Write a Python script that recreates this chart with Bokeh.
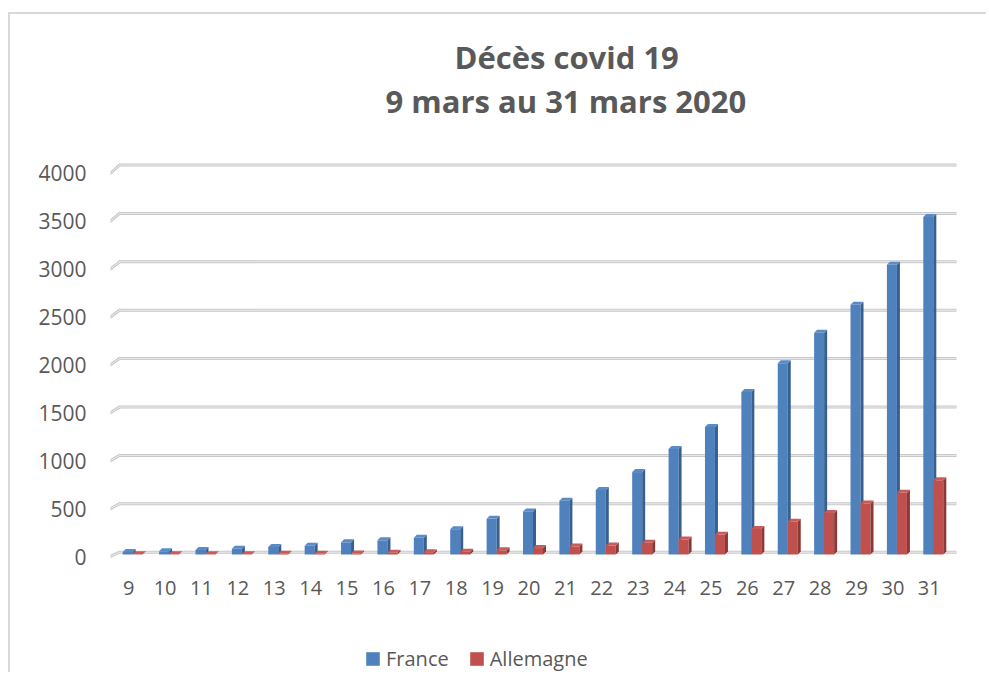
from bokeh.plotting import figure
from bokeh.models import (Range1d, LinearAxis, FixedTicker, Title, Legend,
                          LegendItem, ColumnDataSource)
from bokeh.transform import dodge
from bokeh.embed import file_html
from bokeh.resources import INLINE

# ---------------- data ----------------
days = ["9", "10", "11", "12", "13", "14", "15", "16", "17", "18", "19", "20",
        "21", "22", "23", "24", "25", "26", "27", "28", "29", "30", "31"]
france = [25, 33, 48, 61, 79, 91, 127, 148, 175, 264, 372, 450,
          562, 674, 860, 1100, 1331, 1696, 1995, 2314, 2606, 3024, 3523]
allemagne = [2, 2, 3, 3, 7, 9, 11, 17, 24, 28, 44, 67,
             84, 94, 123, 157, 206, 267, 342, 433, 533, 645, 775]
y_ticks = [0, 500, 1000, 1500, 2000, 2500, 3000, 3500, 4000]
series_names = ["France", "Allemagne"]
title_1 = "Décès covid 19"
title_2 = "9 mars au 31 mars 2020"

# ---------------- layout constants (page pixels) ----------------
W, H = 978, 660
OX, OY = 10, 14                     # canvas origin on the page
FRAME_L, FRAME_R, FRAME_T, FRAME_B = 110, 956, 121, 674
BACK_Y0, BACK_YMAX = 551.7, 164.5   # back wall gridlines (0 and 4000)
FRONT_Y0, FRONT_YMAX = 556.0, 172.7 # front (label) positions
BAR_Y0 = 554.0
FRONT_R = 947.0
DEPTH_X = 9.0
XLAB_CY = 588.0
LEG_LEFT = 364
LEG_BOTTOM = 672.0
TXT = "#595959"
FONT = "Open Sans"

n = len(days)
vmax = y_ticks[-1]
cat_w = (FRONT_R - FRAME_L) / n
k_back = (BACK_Y0 - BACK_YMAX) / vmax
k_front = (FRONT_Y0 - FRONT_YMAX) / vmax

x_start = -0.5
x_end = x_start + (FRAME_R - FRAME_L) / cat_w


def rng(y0, k):
    return Range1d(-(FRAME_B - y0) / k, (y0 - FRAME_T) / k)


p = figure(width=W, height=H, output_backend="svg", toolbar_location=None,
           title=title_1, x_range=Range1d(x_start, x_end),
           y_range=rng(BACK_Y0, k_back), y_axis_location=None,
           min_border_left=FRAME_L - OX, min_border_right=OX + W - FRAME_R,
           min_border_top=FRAME_T - OY, min_border_bottom=OY + H - FRAME_B)
p.extra_y_ranges = {"lab": rng(FRONT_Y0, k_front), "bar": rng(BAR_Y0, k_front)}
p.styles = {"border-left": "2px solid #d9d9d9", "border-top": "2px solid #d9d9d9",
            "margin-top": "12px", "margin-left": "8px"}
p.outline_line_color = None
p.grid.visible = False
p.background_fill_color = "white"
p.border_fill_color = "white"

# titles (second line is the one nearest the plot)
p.title.align = "left"
p.title.offset = 344
p.title.text_font = FONT
p.title.text_font_style = "bold"
p.title.text_font_size = "31px"
p.title.text_color = TXT
t2 = Title(text=title_2, align="left", offset=275, text_font=FONT,
           text_font_style="bold", text_font_size="31px", text_color=TXT)
p.add_layout(t2, "above")
if "standoff" in Title.properties():
    p.title.standoff = 0
    t2.standoff = 0

# y axis (front labels)
yax = LinearAxis(y_range_name="lab", ticker=FixedTicker(ticks=y_ticks))
yax.axis_line_color = None
yax.major_tick_line_color = None
yax.minor_tick_line_color = None
yax.major_label_standoff = 18
yax.major_label_text_font = FONT
yax.major_label_text_font_size = "21px"
yax.major_label_text_color = TXT
p.add_layout(yax, "left")

# x axis (labels lifted up into the plot area)
xax = p.xaxis[0]
xax.ticker = FixedTicker(ticks=list(range(n)))
xax.major_label_overrides = {i: d for i, d in enumerate(days)}
xax.axis_line_color = None
xax.major_tick_line_color = None
xax.minor_tick_line_color = None
xax.major_label_standoff = int(round(XLAB_CY - 14 - FRAME_B))
xax.major_label_text_font = FONT
xax.major_label_text_font_size = "20px"
xax.major_label_text_color = TXT

# gridlines on back wall with 3D stubs
gx0 = x_start + DEPTH_X / cat_w
m = len(y_ticks)
front_vals = [(BACK_Y0 - (FRONT_Y0 - v * k_front)) / k_back for v in y_ticks]
for col, lw in [("#c8c8c8", 3), ("#ececec", 1)]:
    p.segment(x0=[x_start] * m, y0=front_vals, x1=[gx0] * m, y1=y_ticks,
              line_color=col, line_width=lw, line_cap="round")
    p.segment(x0=[gx0] * m, y0=y_ticks, x1=[x_end] * m, y1=y_ticks,
              line_color=col, line_width=lw, line_cap="round")

# 3D bars
bar_w = 10.0 / cat_w
offsets = [-1.0 / cat_w, 9.0 / cat_w]
dxu = 3.0 / cat_w
dyv = 3.0 / k_front
colors = [("#4f81bd", "#375f8f", "#5b8bc6"), ("#c0504d", "#8c3836", "#c95c59")]
items = []
for name, vals, off, (cf, cs, ct) in zip(series_names, [france, allemagne], offsets, colors):
    src = ColumnDataSource(dict(x=list(range(n)), top=vals))
    r = p.vbar(x=dodge("x", off), width=bar_w, top="top", bottom=0, source=src,
               fill_color=cf, line_color=None, y_range_name="bar")
    xs_side, ys_side, xs_top, ys_top = [], [], [], []
    for i, v in enumerate(vals):
        xl = i + off - bar_w / 2
        xr = i + off + bar_w / 2
        xs_side.append([xr, xr + dxu, xr + dxu, xr])
        ys_side.append([0, dyv, v + dyv, v])
        xs_top.append([xl, xr, xr + dxu, xl + dxu])
        ys_top.append([v, v, v + dyv, v + dyv])
    p.patches(xs_side, ys_side, fill_color=cs, line_color=None, y_range_name="bar")
    p.patches(xs_top, ys_top, fill_color=ct, line_color=None, y_range_name="bar")
    items.append(LegendItem(label=name, renderers=[r]))

legend = Legend(items=items, orientation="horizontal",
                location=(LEG_LEFT - FRAME_L, FRAME_B - LEG_BOTTOM),
                glyph_width=17, glyph_height=17, label_standoff=5, spacing=19,
                padding=0, margin=0, border_line_alpha=0, background_fill_alpha=0,
                label_text_font=FONT, label_text_font_size="20px",
                label_text_color=TXT)
p.add_layout(legend, "center")

open("out.html", "w").write(file_html(p, INLINE))
